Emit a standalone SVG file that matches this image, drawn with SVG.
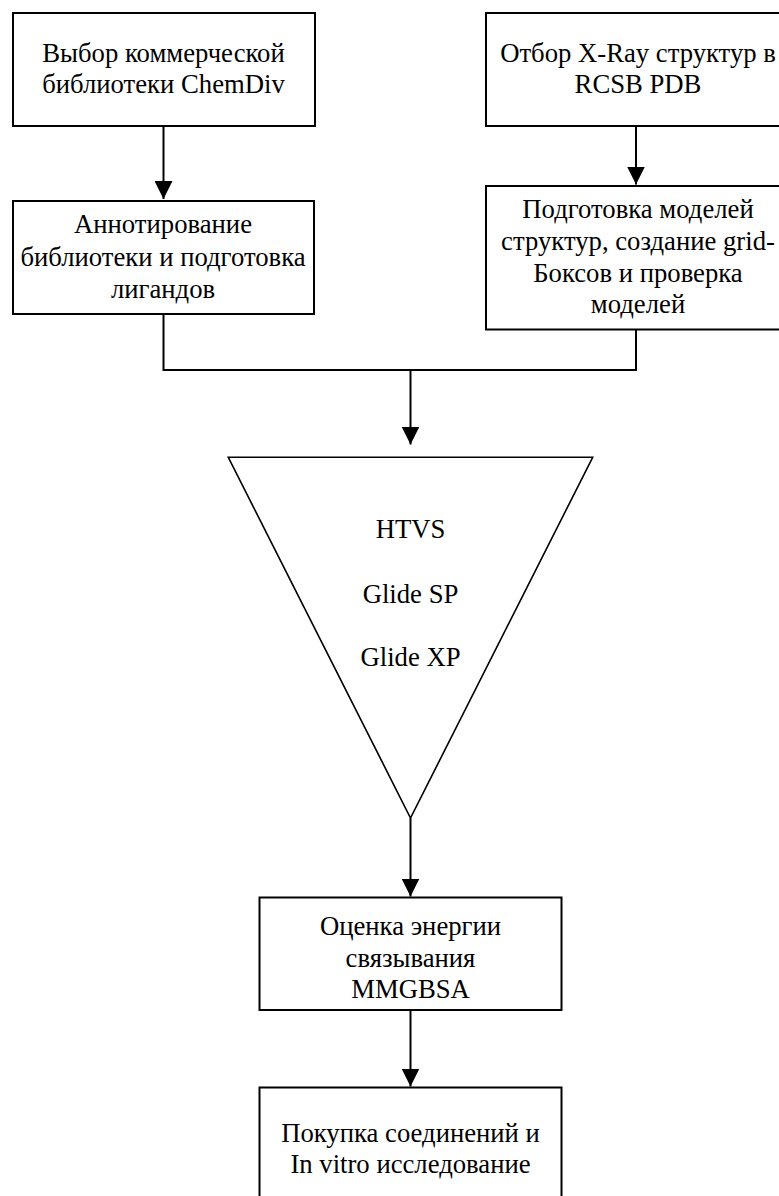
<svg xmlns="http://www.w3.org/2000/svg" width="779" height="1196" viewBox="0 0 779 1196">
  <style>
    .box { fill: #ffffff; stroke: #000000; stroke-width: 2; }
    .tri { fill: #ffffff; stroke: #000000; stroke-width: 1.6; }
    .lbl { font-family: "Liberation Serif", "Times New Roman", serif; font-size: 26.7px; fill: #000000; text-anchor: middle; }
    .conn { fill: none; stroke: #000000; stroke-width: 2; }
  </style>
  <defs>
    <marker id="arrow" markerUnits="userSpaceOnUse" markerWidth="18" markerHeight="18" refX="18" refY="9" orient="auto">
      <path d="M0,0 L18,9 L0,18 z" fill="#000000"/>
    </marker>
  </defs>
  <rect x="0" y="0" width="779" height="1196" fill="#ffffff"/>

  <g id="connectors">
    <path class="conn" d="M163.5,126 V199" marker-end="url(#arrow)"/>
    <path class="conn" d="M636,126 V184.5" marker-end="url(#arrow)"/>
    <path class="conn" d="M163.5,314 V370 H636 V329.5"/>
    <path class="conn" d="M410.5,370 V444.5" marker-end="url(#arrow)"/>
    <path class="conn" d="M410.5,818 V896.5" marker-end="url(#arrow)"/>
    <path class="conn" d="M410.5,1010 V1086.5" marker-end="url(#arrow)"/>
  </g>

  <g id="node-chemdiv">
    <rect class="box" x="13" y="13" width="302" height="113"/>
    <text class="lbl" x="163.5" y="61.7">Выбор коммерческой</text>
    <text class="lbl" x="163.5" y="93.3">библиотеки ChemDiv</text>
  </g>

  <g id="node-annotation">
    <rect class="box" x="13" y="201" width="301" height="113"/>
    <text class="lbl" x="163" y="233.3">Аннотирование</text>
    <text class="lbl" x="163" y="265.5">библиотеки и подготовка</text>
    <text class="lbl" x="163" y="297.5">лигандов</text>
  </g>

  <g id="node-xray">
    <rect class="box" x="486" y="13" width="301" height="113"/>
    <text class="lbl" x="638" y="61.7">Отбор X-Ray структур в</text>
    <text class="lbl" x="638" y="92.5">RCSB PDB</text>
  </g>

  <g id="node-models">
    <rect class="box" x="486" y="186" width="301" height="143.5"/>
    <text class="lbl" x="638" y="218.3">Подготовка моделей</text>
    <text class="lbl" x="638" y="250">структур, создание grid-</text>
    <text class="lbl" x="638" y="281.7">Боксов и проверка</text>
    <text class="lbl" x="638" y="313.3">моделей</text>
  </g>

  <g id="node-funnel">
    <polygon class="tri" points="228.3,457.3 592.7,457.3 410.5,818"/>
    <text class="lbl" x="410.5" y="538">HTVS</text>
    <text class="lbl" x="410.5" y="602.5">Glide SP</text>
    <text class="lbl" x="410.5" y="666">Glide XP</text>
  </g>

  <g id="node-mmgbsa">
    <rect class="box" x="259.5" y="897.5" width="302" height="112.5"/>
    <text class="lbl" x="410.5" y="935">Оценка энергии</text>
    <text class="lbl" x="410.5" y="966.5">связывания</text>
    <text class="lbl" x="410.5" y="998">MMGBSA</text>
  </g>

  <g id="node-purchase">
    <rect class="box" x="259.5" y="1087.5" width="302" height="130"/>
    <text class="lbl" x="410.5" y="1141.5">Покупка соединений и</text>
    <text class="lbl" x="410.5" y="1172.5">In vitro исследование</text>
  </g>
</svg>
